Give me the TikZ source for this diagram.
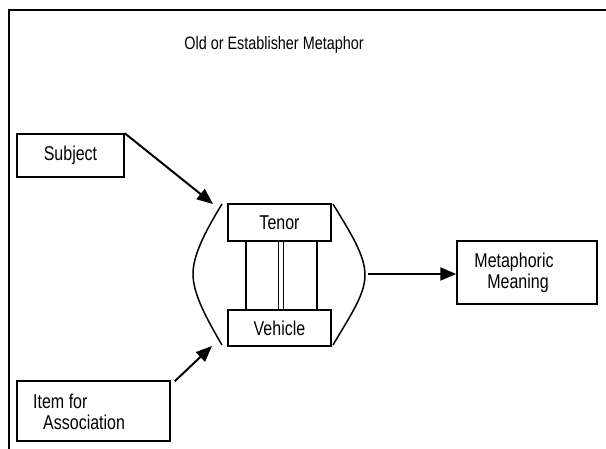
\documentclass[tikz,border=0pt]{standalone}
\usepackage{fontspec}
\setmainfont{Liberation Sans}[FakeStretch=0.8]
\usetikzlibrary{arrows.meta}
\begin{document}
\begin{tikzpicture}[x=1pt,y=-1pt,
  box/.style={draw,line width=1.5pt,inner sep=0pt,font=\fontsize{20}{21}\selectfont},
  txt/.style={inner sep=0pt,font=\fontsize{20}{21}\selectfont},
  link/.style={line width=1.8pt},
  arr/.style={line width=2pt,-{Triangle[length=16pt,width=13pt]}},
  curve/.style={line width=1.5pt}]
\useasboundingbox (0,0) rectangle (606,449);
% outer frame (only top and left edges fall inside the page)
\draw[line width=1.8pt] (620,10) -- (9,10) -- (9,460);
% heading
\node[inner sep=0pt,font=\fontsize{18}{21}\selectfont] (title) at (274,45) {Old or Establisher Metaphor};
% inputs
\node[box,minimum width=107pt,minimum height=43pt] (subj) at (70.5,155.5) {Subject};
\node[box,minimum width=153pt,minimum height=60pt] (item) at (93.5,411) {};
\node[txt,align=left,anchor=west] (itemtext) at (33,412) {Item for\\\hspace{10pt}Association};
% tenor / vehicle pair
\node[box,minimum width=103pt,minimum height=37pt] (tenor) at (279.5,222.5) {Tenor};
\node[box,minimum width=103pt,minimum height=36pt] (vehicle) at (279.5,328) {Vehicle};
\foreach \dx in {-33.5,-1,4,37.5}
  \draw[link] ([xshift=\dx pt]tenor.south) -- ([xshift=\dx pt]vehicle.north);
% enclosing brackets
\draw[curve] (222,204) .. controls (205,232) and (193,255) .. (193,274)
                       .. controls (193,293) and (205,316) .. (222,345);
\draw[curve] (333,204) .. controls (350,232) and (365,255) .. (365,275)
                       .. controls (365,295) and (350,316) .. (333,345);
% output
\node[box,minimum width=140pt,minimum height=63pt] (mm) at (527,272.5) {};
\node[txt,align=center] (mmtext) at (514,272.5) {Metaphoric\\\hspace{8pt}Meaning};
% connectors
\coordinate (lt) at (213,204);
\coordinate (lb) at (212,346);
\coordinate (rb) at (368,274);
\draw[arr] (subj.north east) -- (lt);
\draw[arr] ([xshift=4pt,yshift=-1pt]item.north east) -- (lb);
\draw[arr] (rb) -- (rb -| mm.west);
\end{tikzpicture}
\end{document}
